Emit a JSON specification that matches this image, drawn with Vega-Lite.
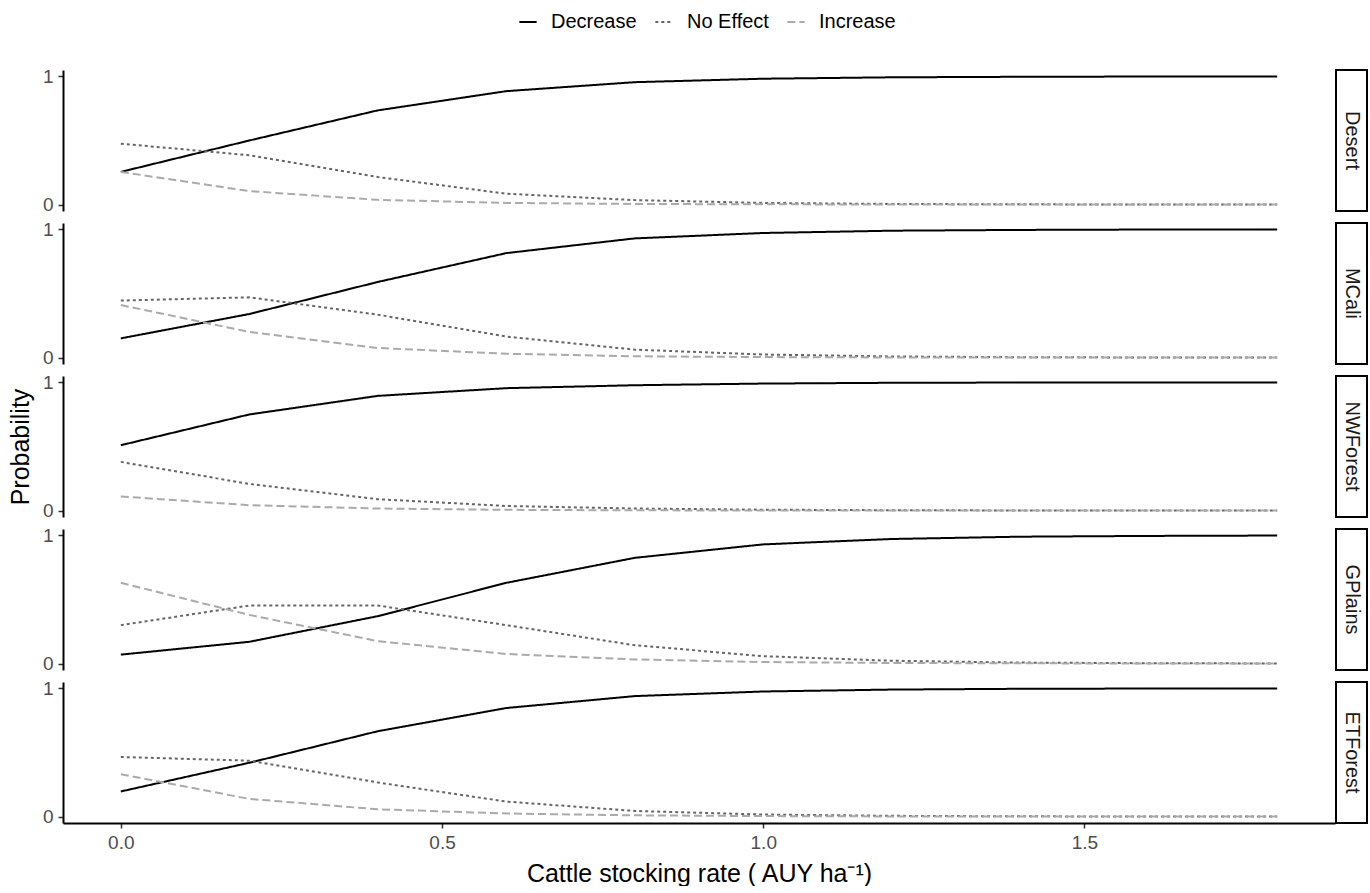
{
  "$schema": "https://vega.github.io/schema/vega-lite/v6.json",
  "padding": {"left": 8, "top": 12, "right": 0, "bottom": 0},
  "spacing": 5,
  "config": {
    "font": "Liberation Sans",
    "view": {"stroke": null},
    "axis": {"grid": false, "domainColor": "black", "domainWidth": 2, "tickColor": "#333333", "tickWidth": 1.5, "tickSize": 5, "labelFontSize": 19, "labelColor": "#4d4d4d", "labelPadding": 5, "titleFontSize": 25, "titleFontWeight": "normal", "titleColor": "black"},
    "legend": {"orient": "none", "legendX": 455, "legendY": -58, "direction": "horizontal", "title": null, "symbolType": "stroke", "symbolStrokeWidth": 2, "symbolSize": 300, "labelFontSize": 20, "labelColor": "black", "labelOffset": 13, "columnPadding": 14}
  },
  "datasets": {
    "regions": [{"region": "Desert"}, {"region": "MCali"}, {"region": "NWForest"}, {"region": "GPlains"}, {"region": "ETForest"}],
    "curves": [
      {"region":"Desert","effect":"Decrease","rate":0,"prob":0.255},
      {"region":"Desert","effect":"Decrease","rate":0.2,"prob":0.5},
      {"region":"Desert","effect":"Decrease","rate":0.4,"prob":0.735},
      {"region":"Desert","effect":"Decrease","rate":0.6,"prob":0.885},
      {"region":"Desert","effect":"Decrease","rate":0.8,"prob":0.955},
      {"region":"Desert","effect":"Decrease","rate":1.0,"prob":0.982},
      {"region":"Desert","effect":"Decrease","rate":1.2,"prob":0.993},
      {"region":"Desert","effect":"Decrease","rate":1.4,"prob":0.997},
      {"region":"Desert","effect":"Decrease","rate":1.6,"prob":0.999},
      {"region":"Desert","effect":"Decrease","rate":1.8,"prob":1.0},
      {"region":"Desert","effect":"No Effect","rate":0,"prob":0.475},
      {"region":"Desert","effect":"No Effect","rate":0.2,"prob":0.385},
      {"region":"Desert","effect":"No Effect","rate":0.4,"prob":0.215},
      {"region":"Desert","effect":"No Effect","rate":0.6,"prob":0.085},
      {"region":"Desert","effect":"No Effect","rate":0.8,"prob":0.035},
      {"region":"Desert","effect":"No Effect","rate":1.0,"prob":0.013},
      {"region":"Desert","effect":"No Effect","rate":1.2,"prob":0.005},
      {"region":"Desert","effect":"No Effect","rate":1.4,"prob":0.002},
      {"region":"Desert","effect":"No Effect","rate":1.6,"prob":0.001},
      {"region":"Desert","effect":"No Effect","rate":1.8,"prob":0.0},
      {"region":"Desert","effect":"Increase","rate":0,"prob":0.255},
      {"region":"Desert","effect":"Increase","rate":0.2,"prob":0.105},
      {"region":"Desert","effect":"Increase","rate":0.4,"prob":0.037},
      {"region":"Desert","effect":"Increase","rate":0.6,"prob":0.013},
      {"region":"Desert","effect":"Increase","rate":0.8,"prob":0.005},
      {"region":"Desert","effect":"Increase","rate":1.0,"prob":0.002},
      {"region":"Desert","effect":"Increase","rate":1.2,"prob":0.001},
      {"region":"Desert","effect":"Increase","rate":1.4,"prob":0.0},
      {"region":"Desert","effect":"Increase","rate":1.6,"prob":0.0},
      {"region":"Desert","effect":"Increase","rate":1.8,"prob":0.0},
      {"region":"MCali","effect":"Decrease","rate":0,"prob":0.15},
      {"region":"MCali","effect":"Decrease","rate":0.2,"prob":0.34},
      {"region":"MCali","effect":"Decrease","rate":0.4,"prob":0.59},
      {"region":"MCali","effect":"Decrease","rate":0.6,"prob":0.815},
      {"region":"MCali","effect":"Decrease","rate":0.8,"prob":0.93},
      {"region":"MCali","effect":"Decrease","rate":1.0,"prob":0.972},
      {"region":"MCali","effect":"Decrease","rate":1.2,"prob":0.99},
      {"region":"MCali","effect":"Decrease","rate":1.4,"prob":0.996},
      {"region":"MCali","effect":"Decrease","rate":1.6,"prob":0.999},
      {"region":"MCali","effect":"Decrease","rate":1.8,"prob":1.0},
      {"region":"MCali","effect":"No Effect","rate":0,"prob":0.445},
      {"region":"MCali","effect":"No Effect","rate":0.2,"prob":0.47},
      {"region":"MCali","effect":"No Effect","rate":0.4,"prob":0.335},
      {"region":"MCali","effect":"No Effect","rate":0.6,"prob":0.164},
      {"region":"MCali","effect":"No Effect","rate":0.8,"prob":0.062},
      {"region":"MCali","effect":"No Effect","rate":1.0,"prob":0.024},
      {"region":"MCali","effect":"No Effect","rate":1.2,"prob":0.009},
      {"region":"MCali","effect":"No Effect","rate":1.4,"prob":0.003},
      {"region":"MCali","effect":"No Effect","rate":1.6,"prob":0.001},
      {"region":"MCali","effect":"No Effect","rate":1.8,"prob":0.0},
      {"region":"MCali","effect":"Increase","rate":0,"prob":0.41},
      {"region":"MCali","effect":"Increase","rate":0.2,"prob":0.2},
      {"region":"MCali","effect":"Increase","rate":0.4,"prob":0.075},
      {"region":"MCali","effect":"Increase","rate":0.6,"prob":0.03},
      {"region":"MCali","effect":"Increase","rate":0.8,"prob":0.01},
      {"region":"MCali","effect":"Increase","rate":1.0,"prob":0.004},
      {"region":"MCali","effect":"Increase","rate":1.2,"prob":0.001},
      {"region":"MCali","effect":"Increase","rate":1.4,"prob":0.0},
      {"region":"MCali","effect":"Increase","rate":1.6,"prob":0.0},
      {"region":"MCali","effect":"Increase","rate":1.8,"prob":0.0},
      {"region":"NWForest","effect":"Decrease","rate":0,"prob":0.51},
      {"region":"NWForest","effect":"Decrease","rate":0.2,"prob":0.75},
      {"region":"NWForest","effect":"Decrease","rate":0.4,"prob":0.895},
      {"region":"NWForest","effect":"Decrease","rate":0.6,"prob":0.955},
      {"region":"NWForest","effect":"Decrease","rate":0.8,"prob":0.978},
      {"region":"NWForest","effect":"Decrease","rate":1.0,"prob":0.991},
      {"region":"NWForest","effect":"Decrease","rate":1.2,"prob":0.997},
      {"region":"NWForest","effect":"Decrease","rate":1.4,"prob":0.999},
      {"region":"NWForest","effect":"Decrease","rate":1.6,"prob":1.0},
      {"region":"NWForest","effect":"Decrease","rate":1.8,"prob":1.0},
      {"region":"NWForest","effect":"No Effect","rate":0,"prob":0.38},
      {"region":"NWForest","effect":"No Effect","rate":0.2,"prob":0.208},
      {"region":"NWForest","effect":"No Effect","rate":0.4,"prob":0.089},
      {"region":"NWForest","effect":"No Effect","rate":0.6,"prob":0.036},
      {"region":"NWForest","effect":"No Effect","rate":0.8,"prob":0.016},
      {"region":"NWForest","effect":"No Effect","rate":1.0,"prob":0.007},
      {"region":"NWForest","effect":"No Effect","rate":1.2,"prob":0.003},
      {"region":"NWForest","effect":"No Effect","rate":1.4,"prob":0.001},
      {"region":"NWForest","effect":"No Effect","rate":1.6,"prob":0.0},
      {"region":"NWForest","effect":"No Effect","rate":1.8,"prob":0.0},
      {"region":"NWForest","effect":"Increase","rate":0,"prob":0.11},
      {"region":"NWForest","effect":"Increase","rate":0.2,"prob":0.042},
      {"region":"NWForest","effect":"Increase","rate":0.4,"prob":0.016},
      {"region":"NWForest","effect":"Increase","rate":0.6,"prob":0.006},
      {"region":"NWForest","effect":"Increase","rate":0.8,"prob":0.002},
      {"region":"NWForest","effect":"Increase","rate":1.0,"prob":0.001},
      {"region":"NWForest","effect":"Increase","rate":1.2,"prob":0.0},
      {"region":"NWForest","effect":"Increase","rate":1.4,"prob":0.0},
      {"region":"NWForest","effect":"Increase","rate":1.6,"prob":0.0},
      {"region":"NWForest","effect":"Increase","rate":1.8,"prob":0.0},
      {"region":"GPlains","effect":"Decrease","rate":0,"prob":0.07},
      {"region":"GPlains","effect":"Decrease","rate":0.2,"prob":0.17},
      {"region":"GPlains","effect":"Decrease","rate":0.4,"prob":0.37},
      {"region":"GPlains","effect":"Decrease","rate":0.6,"prob":0.63},
      {"region":"GPlains","effect":"Decrease","rate":0.8,"prob":0.825},
      {"region":"GPlains","effect":"Decrease","rate":1.0,"prob":0.93},
      {"region":"GPlains","effect":"Decrease","rate":1.2,"prob":0.972},
      {"region":"GPlains","effect":"Decrease","rate":1.4,"prob":0.99},
      {"region":"GPlains","effect":"Decrease","rate":1.6,"prob":0.996},
      {"region":"GPlains","effect":"Decrease","rate":1.8,"prob":0.999},
      {"region":"GPlains","effect":"No Effect","rate":0,"prob":0.3},
      {"region":"GPlains","effect":"No Effect","rate":0.2,"prob":0.453},
      {"region":"GPlains","effect":"No Effect","rate":0.4,"prob":0.453},
      {"region":"GPlains","effect":"No Effect","rate":0.6,"prob":0.3},
      {"region":"GPlains","effect":"No Effect","rate":0.8,"prob":0.143},
      {"region":"GPlains","effect":"No Effect","rate":1.0,"prob":0.058},
      {"region":"GPlains","effect":"No Effect","rate":1.2,"prob":0.022},
      {"region":"GPlains","effect":"No Effect","rate":1.4,"prob":0.008},
      {"region":"GPlains","effect":"No Effect","rate":1.6,"prob":0.003},
      {"region":"GPlains","effect":"No Effect","rate":1.8,"prob":0.001},
      {"region":"GPlains","effect":"Increase","rate":0,"prob":0.63},
      {"region":"GPlains","effect":"Increase","rate":0.2,"prob":0.38},
      {"region":"GPlains","effect":"Increase","rate":0.4,"prob":0.175},
      {"region":"GPlains","effect":"Increase","rate":0.6,"prob":0.075},
      {"region":"GPlains","effect":"Increase","rate":0.8,"prob":0.032},
      {"region":"GPlains","effect":"Increase","rate":1.0,"prob":0.012},
      {"region":"GPlains","effect":"Increase","rate":1.2,"prob":0.005},
      {"region":"GPlains","effect":"Increase","rate":1.4,"prob":0.002},
      {"region":"GPlains","effect":"Increase","rate":1.6,"prob":0.001},
      {"region":"GPlains","effect":"Increase","rate":1.8,"prob":0.0},
      {"region":"ETForest","effect":"Decrease","rate":0,"prob":0.196},
      {"region":"ETForest","effect":"Decrease","rate":0.2,"prob":0.42},
      {"region":"ETForest","effect":"Decrease","rate":0.4,"prob":0.666},
      {"region":"ETForest","effect":"Decrease","rate":0.6,"prob":0.847},
      {"region":"ETForest","effect":"Decrease","rate":0.8,"prob":0.94},
      {"region":"ETForest","effect":"Decrease","rate":1.0,"prob":0.976},
      {"region":"ETForest","effect":"Decrease","rate":1.2,"prob":0.991},
      {"region":"ETForest","effect":"Decrease","rate":1.4,"prob":0.997},
      {"region":"ETForest","effect":"Decrease","rate":1.6,"prob":0.999},
      {"region":"ETForest","effect":"Decrease","rate":1.8,"prob":1.0},
      {"region":"ETForest","effect":"No Effect","rate":0,"prob":0.465},
      {"region":"ETForest","effect":"No Effect","rate":0.2,"prob":0.436},
      {"region":"ETForest","effect":"No Effect","rate":0.4,"prob":0.266},
      {"region":"ETForest","effect":"No Effect","rate":0.6,"prob":0.117},
      {"region":"ETForest","effect":"No Effect","rate":0.8,"prob":0.044},
      {"region":"ETForest","effect":"No Effect","rate":1.0,"prob":0.016},
      {"region":"ETForest","effect":"No Effect","rate":1.2,"prob":0.006},
      {"region":"ETForest","effect":"No Effect","rate":1.4,"prob":0.002},
      {"region":"ETForest","effect":"No Effect","rate":1.6,"prob":0.001},
      {"region":"ETForest","effect":"No Effect","rate":1.8,"prob":0.0},
      {"region":"ETForest","effect":"Increase","rate":0,"prob":0.33},
      {"region":"ETForest","effect":"Increase","rate":0.2,"prob":0.138},
      {"region":"ETForest","effect":"Increase","rate":0.4,"prob":0.057},
      {"region":"ETForest","effect":"Increase","rate":0.6,"prob":0.024},
      {"region":"ETForest","effect":"Increase","rate":0.8,"prob":0.01},
      {"region":"ETForest","effect":"Increase","rate":1.0,"prob":0.004},
      {"region":"ETForest","effect":"Increase","rate":1.2,"prob":0.001},
      {"region":"ETForest","effect":"Increase","rate":1.4,"prob":0.0},
      {"region":"ETForest","effect":"Increase","rate":1.6,"prob":0.0},
      {"region":"ETForest","effect":"Increase","rate":1.8,"prob":0.0}
    ]
  },
  "vconcat": [
    {"hconcat": [
      {"width": 1272, "height": 141, "data": {"name": "curves"}, "transform": [{"filter": "datum.region === 'Desert'"}],
       "mark": {"type": "line", "strokeWidth": 2, "strokeCap": "butt"},
       "encoding": {
         "x": {"field": "rate", "type": "quantitative", "scale": {"domain": [-0.09, 1.89], "nice": false, "zero": false}, "axis": null},
         "y": {"field": "prob", "type": "quantitative", "scale": {"domain": [-0.05, 1.05], "nice": false}, "axis": {"values": [0, 1], "format": "d", "title": null}},
         "color": {"field": "effect", "type": "nominal", "scale": {"domain": ["Decrease", "No Effect", "Increase"], "range": ["#000000", "#666666", "#aaaaaa"]}},
         "strokeDash": {"field": "effect", "type": "nominal", "scale": {"domain": ["Decrease", "No Effect", "Increase"], "range": [[1, 0], [3, 3], [8, 4]]}}
       }},
      {"width": 31, "height": 141, "data": {"name": "regions"}, "transform": [{"filter": "datum.region === 'Desert'"}],
       "view": {"stroke": "black", "strokeWidth": 2, "fill": "white"},
       "mark": {"type": "text", "angle": 90, "fontSize": 20, "color": "#1a1a1a"},
       "encoding": {"text": {"field": "region", "type": "nominal"}}}
    ], "spacing": 1, "bounds": "flush"},
    {"hconcat": [
      {"width": 1272, "height": 141, "data": {"name": "curves"}, "transform": [{"filter": "datum.region === 'MCali'"}],
       "mark": {"type": "line", "strokeWidth": 2, "strokeCap": "butt"},
       "encoding": {
         "x": {"field": "rate", "type": "quantitative", "scale": {"domain": [-0.09, 1.89], "nice": false, "zero": false}, "axis": null},
         "y": {"field": "prob", "type": "quantitative", "scale": {"domain": [-0.05, 1.05], "nice": false}, "axis": {"values": [0, 1], "format": "d", "title": null}},
         "color": {"field": "effect", "type": "nominal", "scale": {"domain": ["Decrease", "No Effect", "Increase"], "range": ["#000000", "#666666", "#aaaaaa"]}},
         "strokeDash": {"field": "effect", "type": "nominal", "scale": {"domain": ["Decrease", "No Effect", "Increase"], "range": [[1, 0], [3, 3], [8, 4]]}}
       }},
      {"width": 31, "height": 141, "data": {"name": "regions"}, "transform": [{"filter": "datum.region === 'MCali'"}],
       "view": {"stroke": "black", "strokeWidth": 2, "fill": "white"},
       "mark": {"type": "text", "angle": 90, "fontSize": 20, "color": "#1a1a1a"},
       "encoding": {"text": {"field": "region", "type": "nominal"}}}
    ], "spacing": 1, "bounds": "flush"},
    {"hconcat": [
      {"width": 1272, "height": 141, "data": {"name": "curves"}, "transform": [{"filter": "datum.region === 'NWForest'"}],
       "mark": {"type": "line", "strokeWidth": 2, "strokeCap": "butt"},
       "encoding": {
         "x": {"field": "rate", "type": "quantitative", "scale": {"domain": [-0.09, 1.89], "nice": false, "zero": false}, "axis": null},
         "y": {"field": "prob", "type": "quantitative", "scale": {"domain": [-0.05, 1.05], "nice": false}, "axis": {"values": [0, 1], "format": "d", "title": "Probability", "titlePadding": 9}},
         "color": {"field": "effect", "type": "nominal", "scale": {"domain": ["Decrease", "No Effect", "Increase"], "range": ["#000000", "#666666", "#aaaaaa"]}},
         "strokeDash": {"field": "effect", "type": "nominal", "scale": {"domain": ["Decrease", "No Effect", "Increase"], "range": [[1, 0], [3, 3], [8, 4]]}}
       }},
      {"width": 31, "height": 141, "data": {"name": "regions"}, "transform": [{"filter": "datum.region === 'NWForest'"}],
       "view": {"stroke": "black", "strokeWidth": 2, "fill": "white"},
       "mark": {"type": "text", "angle": 90, "fontSize": 20, "color": "#1a1a1a"},
       "encoding": {"text": {"field": "region", "type": "nominal"}}}
    ], "spacing": 1, "bounds": "flush"},
    {"hconcat": [
      {"width": 1272, "height": 141, "data": {"name": "curves"}, "transform": [{"filter": "datum.region === 'GPlains'"}],
       "mark": {"type": "line", "strokeWidth": 2, "strokeCap": "butt"},
       "encoding": {
         "x": {"field": "rate", "type": "quantitative", "scale": {"domain": [-0.09, 1.89], "nice": false, "zero": false}, "axis": null},
         "y": {"field": "prob", "type": "quantitative", "scale": {"domain": [-0.05, 1.05], "nice": false}, "axis": {"values": [0, 1], "format": "d", "title": null}},
         "color": {"field": "effect", "type": "nominal", "scale": {"domain": ["Decrease", "No Effect", "Increase"], "range": ["#000000", "#666666", "#aaaaaa"]}},
         "strokeDash": {"field": "effect", "type": "nominal", "scale": {"domain": ["Decrease", "No Effect", "Increase"], "range": [[1, 0], [3, 3], [8, 4]]}}
       }},
      {"width": 31, "height": 141, "data": {"name": "regions"}, "transform": [{"filter": "datum.region === 'GPlains'"}],
       "view": {"stroke": "black", "strokeWidth": 2, "fill": "white"},
       "mark": {"type": "text", "angle": 90, "fontSize": 20, "color": "#1a1a1a"},
       "encoding": {"text": {"field": "region", "type": "nominal"}}}
    ], "spacing": 1, "bounds": "flush"},
    {"hconcat": [
      {"width": 1272, "height": 141, "data": {"name": "curves"}, "transform": [{"filter": "datum.region === 'ETForest'"}],
       "mark": {"type": "line", "strokeWidth": 2, "strokeCap": "butt"},
       "encoding": {
         "x": {"field": "rate", "type": "quantitative", "scale": {"domain": [-0.09, 1.89], "nice": false, "zero": false}, "axis": {"values": [0, 0.5, 1, 1.5], "format": ".1f", "title": "Cattle stocking rate ( AUY ha⁻¹)", "labelPadding": 5, "titlePadding": 9}},
         "y": {"field": "prob", "type": "quantitative", "scale": {"domain": [-0.05, 1.05], "nice": false}, "axis": {"values": [0, 1], "format": "d", "title": null}},
         "color": {"field": "effect", "type": "nominal", "scale": {"domain": ["Decrease", "No Effect", "Increase"], "range": ["#000000", "#666666", "#aaaaaa"]}},
         "strokeDash": {"field": "effect", "type": "nominal", "scale": {"domain": ["Decrease", "No Effect", "Increase"], "range": [[1, 0], [3, 3], [8, 4]]}}
       }},
      {"width": 31, "height": 141, "data": {"name": "regions"}, "transform": [{"filter": "datum.region === 'ETForest'"}],
       "view": {"stroke": "black", "strokeWidth": 2, "fill": "white"},
       "mark": {"type": "text", "angle": 90, "fontSize": 20, "color": "#1a1a1a"},
       "encoding": {"text": {"field": "region", "type": "nominal"}}}
    ], "spacing": 1, "bounds": "flush"}
  ]
}
